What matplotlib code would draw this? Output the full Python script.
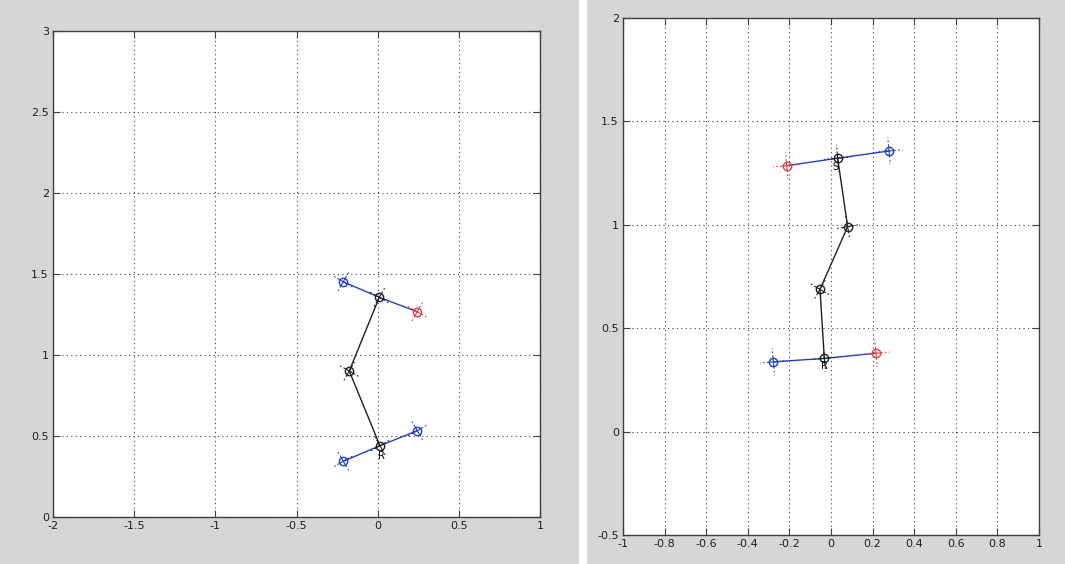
import matplotlib.pyplot as plt
import numpy as np
from matplotlib.patches import Rectangle

# Left panel: joint positions
L_top_x = [-0.212, 0.010, 0.244]
L_top_y = [1.452, 1.356, 1.267]
L_top_c = ['blue', 'black', 'red']
L_chain_x = [0.010, -0.175, 0.014]
L_chain_y = [1.356, 0.901, 0.440]
L_bot_x = [-0.212, 0.014, 0.244]
L_bot_y = [0.344, 0.440, 0.533]
L_bot_c = ['blue', 'black', 'blue']

# Right panel: joint positions
R_top_x = [-0.213, 0.032, 0.279]
R_top_y = [1.286, 1.322, 1.357]
R_top_c = ['red', 'black', 'blue']
R_chain_x = [0.032, 0.080, -0.053, -0.032]
R_chain_y = [1.322, 0.991, 0.688, 0.354]
R_bot_x = [-0.277, -0.032, 0.216]
R_bot_y = [0.337, 0.354, 0.379]
R_bot_c = ['blue', 'black', 'red']

BLUE = '#2040c0'
RED = '#e04040'
cmap = {'blue': BLUE, 'red': RED, 'black': '#202020'}

FONT = ['Liberation Sans Narrow', 'DejaVu Sans']
plt.rcParams['font.family'] = FONT

fig = plt.figure(figsize=(10.65, 5.64), dpi=100)
fig.patch.set_facecolor('#d6d6d6')
# white strip between the two screenshots
fig.add_artist(Rectangle((579 / 1065, 0), 8 / 1065, 1, transform=fig.transFigure,
                         facecolor='white', edgecolor='none'))

W, H = 1065, 564
def ax_at(x0, y0, x1, y1):
    return fig.add_axes([x0 / W, 1 - y1 / H, (x1 - x0) / W, (y1 - y0) / H])

axL = ax_at(53, 31, 540, 517)
axR = ax_at(623, 18, 1039, 535)


def style(ax, xlim, ylim, xt, yt):
    ax.set_xlim(xlim)
    ax.set_ylim(ylim)
    ax.set_xticks(xt)
    ax.set_yticks(yt)
    ax.set_xticklabels([('%g' % v) for v in xt])
    ax.set_yticklabels([('%g' % v) for v in yt])
    ax.grid(True, color='#404040', linestyle=(0, (1, 3)), linewidth=0.8)
    ax.tick_params(direction='in', length=5, top=True, right=True,
                   labelsize=8, color='#404040', labelcolor='#202020', pad=3)
    for s in ax.spines.values():
        s.set_color('#404040')
        s.set_linewidth(1.0)
    ax.set_axisbelow(True)


def frame(ax, x, y, c, ang, ln):
    # small dash-dot axes through each joint, drawn outward from the centre
    for k in range(4):
        a = ang + k * np.pi / 2
        dx, dy = ln * np.cos(a), ln * np.sin(a)
        ax.plot([x, x + dx], [y, y + dy], color=cmap[c],
                linestyle=(0, (6, 2, 1.5, 2)), linewidth=0.8, zorder=3)
    ax.plot(x, y, 'o', mfc='none', mec=cmap[c], ms=6, mew=1.0, zorder=4)


# left panel
style(axL, (-2, 1), (0, 3), [-2, -1.5, -1, -0.5, 0, 0.5, 1],
      [0, 0.5, 1, 1.5, 2, 2.5, 3])
axL.plot(L_top_x, L_top_y, color=BLUE, lw=1.0, zorder=2)
axL.plot(L_bot_x, L_bot_y, color=BLUE, lw=1.0, zorder=2)
axL.plot(L_chain_x, L_chain_y, color='#202020', lw=1.0, zorder=2)
for x, y, c in zip(L_top_x, L_top_y, L_top_c):
    frame(axL, x, y, c, np.radians(60), 0.075)
for x, y, c in zip(L_bot_x, L_bot_y, L_bot_c):
    frame(axL, x, y, c, np.radians(-60), 0.075)
frame(axL, L_chain_x[1], L_chain_y[1], 'black', np.radians(-30), 0.075)
axL.text(L_bot_x[1] + 0.01, L_bot_y[1] - 0.03, 'R', fontsize=7, ha='center', va='top')

# right panel
style(axR, (-1, 1), (-0.5, 2), [-1, -0.8, -0.6, -0.4, -0.2, 0, 0.2, 0.4, 0.6, 0.8, 1],
      [-0.5, 0, 0.5, 1, 1.5, 2])
axR.plot(R_top_x, R_top_y, color=BLUE, lw=1.0, zorder=2)
axR.plot(R_bot_x, R_bot_y, color=BLUE, lw=1.0, zorder=2)
axR.plot(R_chain_x, R_chain_y, color='#202020', lw=1.0, zorder=2)
for x, y, c in zip(R_top_x, R_top_y, R_top_c):
    frame(axR, x, y, c, np.radians(5), 0.065)
for x, y, c in zip(R_bot_x, R_bot_y, R_bot_c):
    frame(axR, x, y, c, np.radians(5), 0.065)
frame(axR, R_chain_x[1], R_chain_y[1], 'black', np.radians(10), 0.06)
frame(axR, R_chain_x[2], R_chain_y[2], 'black', np.radians(-30), 0.06)
axR.text(R_top_x[1] - 0.01, R_top_y[1] - 0.02, 'S', fontsize=7, ha='center', va='top')
axR.text(R_bot_x[1], R_bot_y[1] - 0.015, 'R', fontsize=7, ha='center', va='top')

fig.savefig('out.png', dpi=100, facecolor=fig.get_facecolor())
